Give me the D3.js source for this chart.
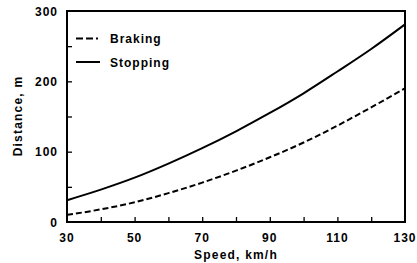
<!DOCTYPE html>
<html><head><meta charset="utf-8">
<script src="https://cdn.jsdelivr.net/npm/d3@7"></script>
<style>
body{margin:0;background:#fff;}
text{font-family:"Liberation Sans",Arial,sans-serif;font-weight:bold;fill:#000;}
</style></head>
<body><svg id="c" width="417" height="263"></svg>
<script>
const speeds = [30,40,50,60,70,80,90,100,110,120,130];
const braking = [10,18,28,41,56,73,92,113,137,163,190];
const stopping = [31,46,63,83,105,129,155,183,214,246,281];
const xTicks = [30,50,70,90,110,130];
const yTicks = [0,100,200,300];
const seriesNames = ["Braking","Stopping"];

const svg = d3.select("#c");
const L=67,R=405,T=11,B=222;
const x = d3.scaleLinear().domain([30,130]).range([L,R]);
const y = d3.scaleLinear().domain([0,300]).range([B,T]);

// axes with inward ticks
const xAx = svg.append("g").attr("transform",`translate(0,${B})`)
  .call(d3.axisBottom(x).tickValues(d3.range(40,130,10)).tickSize(-5).tickFormat(""));
xAx.select(".domain").remove();
xAx.selectAll("line").attr("stroke","#000").attr("stroke-width",1.3);
const yAx = svg.append("g").attr("transform",`translate(${L},0)`)
  .call(d3.axisLeft(y).tickValues([50,100,150,200,250]).tickSize(-5).tickFormat(""));
yAx.select(".domain").remove();
yAx.selectAll("line").attr("stroke","#000").attr("stroke-width",1.3);

// tick labels
svg.append("g").selectAll("text").data(xTicks).join("text")
  .attr("x",d=>x(d)).attr("y",242).attr("text-anchor","middle")
  .attr("font-size",12).attr("letter-spacing",1).text(d=>d);
svg.append("g").selectAll("text").data(yTicks).join("text")
  .attr("x",58).attr("y",d=>y(d)+4.5).attr("text-anchor","end")
  .attr("font-size",12).attr("letter-spacing",1).text(d=>d);

// frame
svg.append("rect").attr("x",L).attr("y",T).attr("width",R-L).attr("height",B-T)
  .attr("fill","none").attr("stroke","#000").attr("stroke-width",2);

// lines
const line = d3.line().x((d,i)=>x(speeds[i])).y(d=>y(d)).curve(d3.curveMonotoneX);
svg.append("path").datum(braking).attr("d",line).attr("fill","none")
  .attr("stroke","#000").attr("stroke-width",2).attr("stroke-dasharray","6,3");
svg.append("path").datum(stopping).attr("d",line).attr("fill","none")
  .attr("stroke","#000").attr("stroke-width",2);

// legend
const leg = svg.append("g");
leg.append("line").attr("x1",76).attr("x2",100).attr("y1",38.5).attr("y2",38.5)
  .attr("stroke","#000").attr("stroke-width",1.8).attr("stroke-dasharray","7,3,7,3,2");
leg.append("line").attr("x1",76).attr("x2",100).attr("y1",62).attr("y2",62)
  .attr("stroke","#000").attr("stroke-width",2);
leg.append("text").attr("x",110).attr("y",43).attr("font-size",12).attr("letter-spacing",1).text(seriesNames[0]);
leg.append("text").attr("x",110).attr("y",67).attr("font-size",12).attr("letter-spacing",1).text(seriesNames[1]);

// axis titles
svg.append("text").attr("x",236).attr("y",259).attr("text-anchor","middle")
  .attr("font-size",12).attr("letter-spacing",1.2).text("Speed, km/h");
svg.append("text").attr("transform","translate(22,116) rotate(-90)").attr("text-anchor","middle")
  .attr("font-size",12).attr("letter-spacing",1.2).text("Distance, m");
</script></body></html>
